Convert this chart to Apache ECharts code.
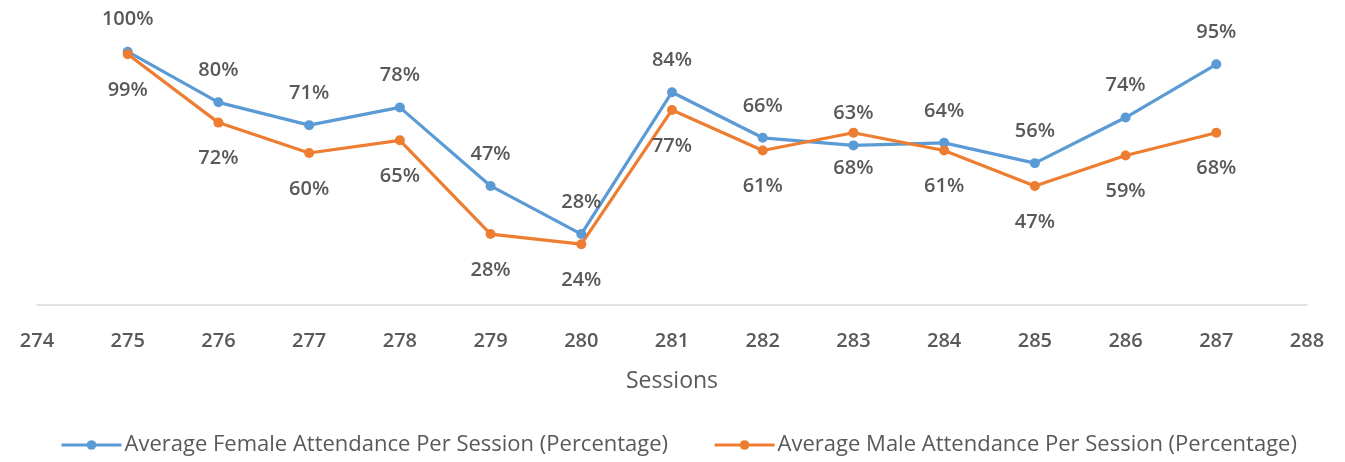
<!DOCTYPE html>
<html><head><meta charset="utf-8">
<script src="https://cdn.jsdelivr.net/npm/echarts@6/dist/echarts.min.js"></script>
<style>html,body{margin:0;padding:0;background:#fff}#c{width:1345px;height:462px}</style>
</head><body><div id="c"></div>
<script>
const sessions = [275, 276, 277, 278, 279, 280, 281, 282, 283, 284, 285, 286, 287];
const female = [100, 80, 71, 78, 47, 28, 84, 66, 63, 64, 56, 74, 95];
const male = [99, 72, 60, 65, 28, 24, 77, 61, 68, 61, 47, 59, 68];
const femaleName = 'Average Female Attendance Per Session (Percentage)';
const maleName = 'Average Male Attendance Per Session (Percentage)';

const font = 'Open Sans';
const chart = echarts.init(document.getElementById('c'));
function mk(name, vals, color, pos, dist) {
  return {
    name: name, type: 'line', data: sessions.map((s, i) => [s, vals[i]]),
    symbol: 'circle', symbolSize: 10,
    lineStyle: {color: color, width: 3.2}, itemStyle: {color: color},
    label: {show: true, position: pos, distance: dist, formatter: p => p.value[1] + '%',
      color: '#595959', fontFamily: font, fontSize: 20, fontWeight: 600},
    emphasis: {disabled: true}, animation: false
  };
}
chart.setOption({
  animation: false,
  grid: {left: 37, right: 38, top: 1, bottom: 157, containLabel: false},
  xAxis: {
    type: 'value', min: 274, max: 288, interval: 1,
    name: 'Sessions', nameLocation: 'middle', nameGap: 65,
    nameTextStyle: {color: '#595959', fontFamily: font, fontSize: 23},
    axisLine: {show: true, lineStyle: {color: '#d9d9d9', width: 1.5}},
    axisTick: {show: false}, splitLine: {show: false},
    axisLabel: {color: '#595959', fontFamily: font, fontSize: 20, fontWeight: 600, margin: 26}
  },
  yAxis: {type: 'value', min: 0, max: 120, show: false, splitLine: {show: false}},
  legend: {
    bottom: 1, left: 55, itemGap: 45, itemWidth: 60, itemHeight: 12,
    lineStyle: {width: 3},
    textStyle: {color: '#595959', fontFamily: font, fontSize: 22, padding: [0, 0, 0, -2]},
    data: [femaleName, maleName]
  },
  series: [mk(femaleName, female, '#5b9bd5', 'top', 17), mk(maleName, male, '#ed7d31', 'bottom', 21)]
});
</script></body></html>
